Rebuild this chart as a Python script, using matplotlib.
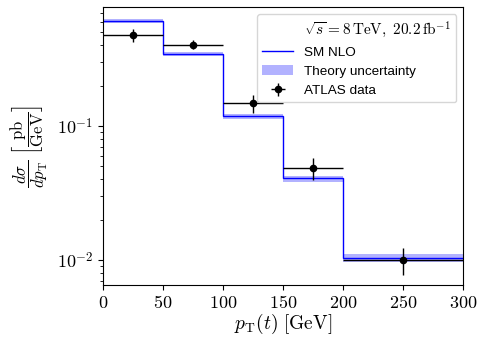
import matplotlib
matplotlib.use('Agg')
import matplotlib.pyplot as plt
from matplotlib.ticker import FuncFormatter
import numpy as np

plt.rcParams['mathtext.fontset'] = 'cm'
plt.rcParams['font.family'] = ['Liberation Sans', 'DejaVu Sans']

# bin edges in GeV
bin_edges = [0, 50, 100, 150, 200, 300]

# SM NLO prediction (pb/GeV) and its uncertainty band
sm_nlo = [0.605, 0.345, 0.118, 0.0406, 0.0104]
sm_low = [0.585, 0.333, 0.113, 0.0385, 0.0097]
sm_high = [0.625, 0.357, 0.123, 0.0425, 0.0110]

# ATLAS data
data_x = [25, 75, 125, 175, 250]
data_y = [0.475, 0.405, 0.148, 0.0485, 0.0100]
data_err = [0.05, 0.033, 0.022, 0.009, 0.0023]

xticks = [0, 50, 100, 150, 200, 250, 300]


def log_label(v, pos):
    return r'$10^{%d}$' % int(round(np.log10(v)))


def main():
    fig = plt.figure(figsize=(4.8, 3.39), dpi=100)
    ax = fig.add_axes([0.2146, 0.159, 0.75, 0.82])

    edges = np.array(bin_edges)
    xerr = np.diff(edges) / 2

    ax.plot([], [], ' ', label=r'$\sqrt{s} = 8\,\mathrm{TeV},\ 20.2\,\mathrm{fb}^{-1}$')
    ax.stairs(sm_nlo, edges, baseline=None, color='blue', lw=1.0, label='SM NLO')
    ax.stairs(sm_high, edges, baseline=sm_low, fill=True, color='blue',
              alpha=0.3, lw=0, label='Theory uncertainty')
    ax.errorbar(data_x, data_y, xerr=xerr, yerr=data_err, fmt='o', color='black',
                markersize=4.5, elinewidth=1.0, label='ATLAS data')

    ax.set_yscale('log')
    ax.set_xlim(0, 300)
    ax.set_ylim(0.0065, 0.77)
    ax.set_xticks(xticks)
    ax.set_xticklabels([r'$%d$' % t for t in xticks])
    ax.yaxis.set_major_formatter(FuncFormatter(log_label))
    ax.tick_params(labelsize=13)

    ax.set_xlabel(r'$p_\mathrm{T}(t)\ [\mathrm{GeV}]$', fontsize=14, labelpad=0)
    ax.set_ylabel(r'$\dfrac{d\sigma}{dp_\mathrm{T}}\ \left[\dfrac{\mathrm{pb}}{\mathrm{GeV}}\right]$',
                  fontsize=12, labelpad=5)

    leg = ax.legend(loc='upper right', fontsize=9.7, handlelength=2.3)
    leg.get_texts()[0].set_fontsize(11)
    fig.savefig('out.png', dpi=100)


main()
